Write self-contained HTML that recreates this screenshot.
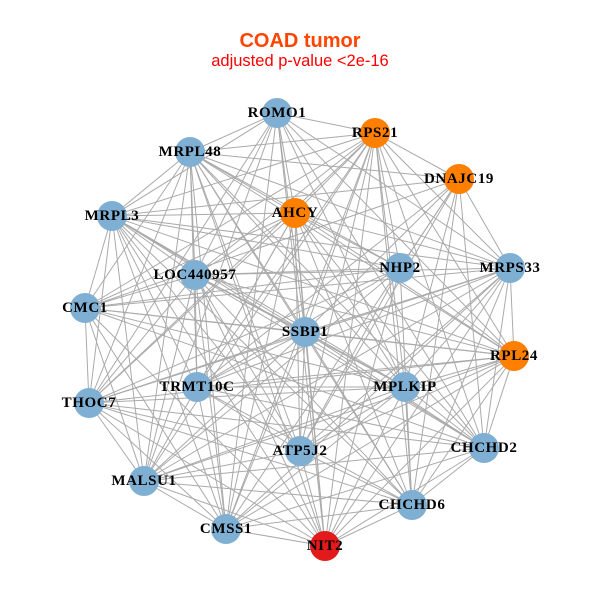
<!DOCTYPE html>
<html><head><meta charset="utf-8"><style>
html,body{margin:0;padding:0;background:#fff;width:600px;height:600px;overflow:hidden}
svg text.l{font-family:"Liberation Serif",serif;font-weight:bold;font-size:15px;letter-spacing:0.6px;fill:#000;text-anchor:middle;dominant-baseline:central}
</style></head><body>
<svg id="s" width="600" height="600" xmlns="http://www.w3.org/2000/svg">
<text x="300" y="47" text-anchor="middle" font-family="Liberation Sans,sans-serif" font-weight="bold" font-size="20" fill="#ff4500">COAD tumor</text>
<text x="300" y="66" text-anchor="middle" font-family="Liberation Sans,sans-serif" font-size="16.5" fill="#ff0000">adjusted p-value &lt;2e-16</text>
<g id="e" stroke="#aaaaaa" stroke-width="1"></g>
<g id="n"></g>
<g>
<text class="l" x="277" y="113">ROMO1</text>
<text class="l" x="375" y="133">RPS21</text>
<text class="l" x="190" y="152">MRPL48</text>
<text class="l" x="459" y="179">DNAJC19</text>
<text class="l" x="112" y="216">MRPL3</text>
<text class="l" x="295" y="213">AHCY</text>
<text class="l" x="400" y="268">NHP2</text>
<text class="l" x="510" y="268">MRPS33</text>
<text class="l" x="195" y="275">LOC440957</text>
<text class="l" x="85" y="308">CMC1</text>
<text class="l" x="305" y="332">SSBP1</text>
<text class="l" x="514" y="356">RPL24</text>
<text class="l" x="197" y="387">TRMT10C</text>
<text class="l" x="405" y="387">MPLKIP</text>
<text class="l" x="89" y="403">THOC7</text>
<text class="l" x="300" y="451">ATP5J2</text>
<text class="l" x="484" y="448">CHCHD2</text>
<text class="l" x="144" y="481">MALSU1</text>
<text class="l" x="412" y="505">CHCHD6</text>
<text class="l" x="226" y="529">CMSS1</text>
<text class="l" x="325" y="546">NIT2</text>
</g>
</svg>
<script>
var N=[[277,113,0],[375,133,1],[190,152,0],[459,179,1],[112,216,0],[295,213,1],[400,268,0],[510,268,0],[195,275,0],[85,308,0],[305,332,0],[514,356,1],[197,387,0],[405,387,0],[89,403,0],[300,451,0],[484,448,0],[144,481,0],[412,505,0],[226,529,0],[325,546,2]];
var ns="http://www.w3.org/2000/svg",e=document.getElementById('e'),g=document.getElementById('n');
for(var i=0;i<N.length;i++)for(var j=i+1;j<N.length;j++){
 if((i*7+j*3)%9==0)continue;
 var l=document.createElementNS(ns,'line');l.setAttribute('x1',N[i][0]);l.setAttribute('y1',N[i][1]);l.setAttribute('x2',N[j][0]);l.setAttribute('y2',N[j][1]);e.appendChild(l);}
var C=['#7fb0d4','#ff7f00','#e31a1c'];
N.forEach(function(p){var c=document.createElementNS(ns,'circle');c.setAttribute('cx',p[0]);c.setAttribute('cy',p[1]);c.setAttribute('r',15);c.setAttribute('fill',C[p[2]]);g.appendChild(c);});
</script>
</body></html>
